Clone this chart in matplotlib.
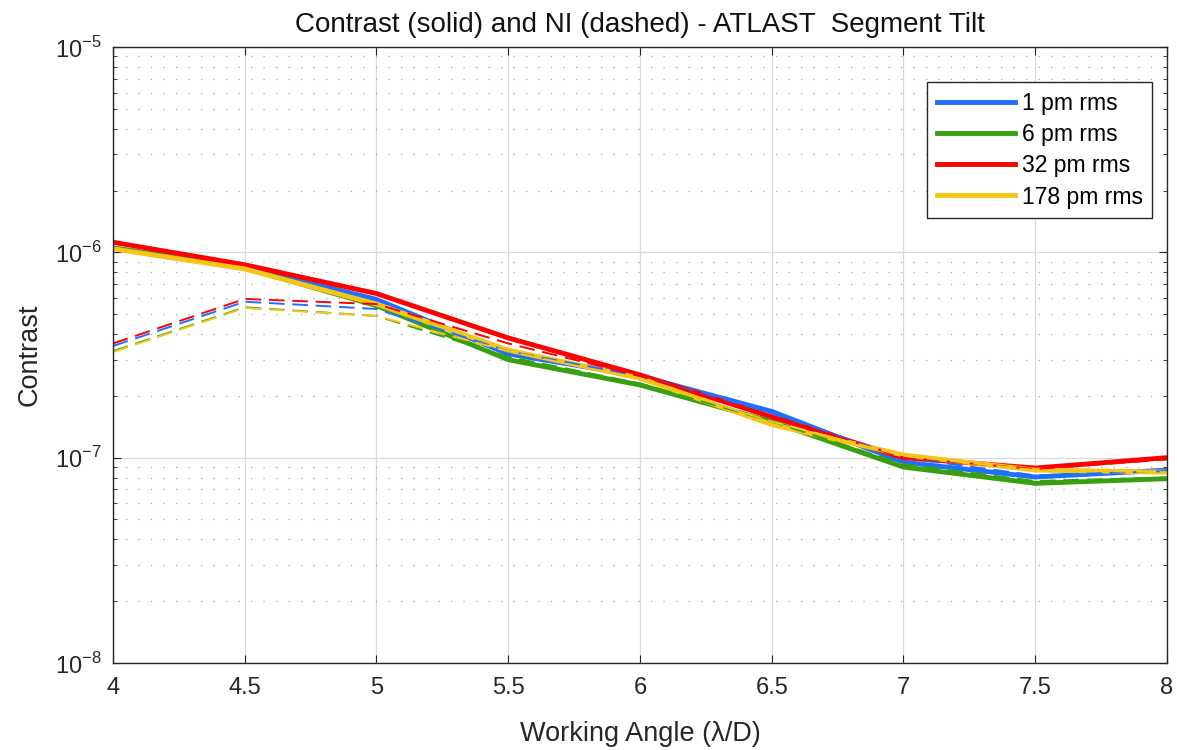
import numpy as np
import matplotlib
matplotlib.use("Agg")
import matplotlib.pyplot as plt
from matplotlib.ticker import LogLocator, NullFormatter, MultipleLocator

plt.rcParams['font.family'] = ['Liberation Sans', 'DejaVu Sans']
plt.rcParams['mathtext.fontset'] = 'custom'
plt.rcParams['mathtext.rm'] = 'Liberation Sans'

# working angle samples (lambda/D)
angle = [4.0, 4.5, 5.0, 5.5, 6.0, 6.5, 7.0, 7.5, 8.0]

labels = ["1 pm rms", "6 pm rms", "32 pm rms", "178 pm rms"]
colors = ["#1f6fff", "#38a00f", "#ff0000", "#f5c518"]

# contrast curves (solid)
contrast_1 = [1.05e-6, 8.5e-7, 5.9e-7, 3.2e-7, 2.5e-7, 1.68e-7, 9.5e-8, 8.05e-8, 8.7e-8]
contrast_6 = [1.05e-6, 8.4e-7, 5.5e-7, 3.0e-7, 2.26e-7, 1.5e-7, 9.0e-8, 7.5e-8, 7.9e-8]
contrast_32 = [1.12e-6, 8.7e-7, 6.3e-7, 3.83e-7, 2.53e-7, 1.58e-7, 1.0e-7, 8.9e-8, 1.0e-7]
contrast_178 = [1.04e-6, 8.3e-7, 5.6e-7, 3.34e-7, 2.44e-7, 1.45e-7, 1.03e-7, 8.7e-8, 8.5e-8]

# normalized intensity curves (dashed)
ni_1 = [3.5e-7, 5.75e-7, 5.3e-7, 3.3e-7, 2.5e-7, 1.65e-7, 1.0e-7, 8.2e-8, 8.6e-8]
ni_6 = [3.3e-7, 5.4e-7, 4.9e-7, 3.1e-7, 2.3e-7, 1.5e-7, 9.3e-8, 7.7e-8, 8.0e-8]
ni_32 = [3.6e-7, 5.93e-7, 5.6e-7, 3.6e-7, 2.5e-7, 1.6e-7, 1.0e-7, 8.8e-8, 9.8e-8]
ni_178 = [3.27e-7, 5.36e-7, 4.9e-7, 3.3e-7, 2.4e-7, 1.5e-7, 1.02e-7, 8.7e-8, 8.5e-8]

contrast = [contrast_1, contrast_6, contrast_32, contrast_178]
ni = [ni_1, ni_6, ni_32, ni_178]

fig = plt.figure(figsize=(11.77, 7.5), dpi=100)
ax = fig.add_axes([0.096, 0.116, 0.8955, 0.8213])

for c, lab, col in zip(contrast, labels, colors):
    ax.plot(angle, c, color=col, lw=3.5, label=lab)
for n, col in zip(ni, colors):
    ax.plot(angle, n, color=col, lw=1.4, ls=(0, (8, 4)))

ax.set_yscale('log')
ax.set_xlim(4, 8)
ax.set_ylim(1e-8, 1e-5)
ax.xaxis.set_major_locator(MultipleLocator(0.5))
ax.xaxis.set_major_formatter(plt.FuncFormatter(lambda v, p: f"{v:g}"))
ax.yaxis.set_major_locator(LogLocator(base=10))
ax.yaxis.set_major_formatter(plt.FuncFormatter(lambda v, p: r"$10^{%d}$" % round(np.log10(v))))
ax.yaxis.set_minor_locator(LogLocator(base=10, subs=np.arange(2, 10)))
ax.yaxis.set_minor_formatter(NullFormatter())

ax.grid(True, which='major', color='#dadada', lw=0.9)
ax.grid(True, which='minor', axis='y', color='#a8a8a8', lw=0.9, ls=(0, (1, 9)))
ax.set_axisbelow(True)

ax.tick_params(which='both', direction='in', top=True, right=True, labelsize=17,
               colors='#262626')
ax.tick_params(which='major', length=6)
ax.tick_params(which='minor', length=3)
ax.tick_params(axis='x', pad=10)
ax.tick_params(axis='y', pad=8)
for s in ax.spines.values():
    s.set_color('#262626')
    s.set_linewidth(1.0)

ax.set_title("Contrast (solid) and NI (dashed) - ATLAST  Segment Tilt", fontsize=20,
             color='#111111', pad=11)
ax.set_xlabel("Working Angle (λ/D)", fontsize=19.5, color='#262626', labelpad=16)
ax.set_ylabel("Contrast", fontsize=19.5, color='#262626', labelpad=9)

leg = ax.legend(loc='upper right', bbox_to_anchor=(0.986, 0.943), fontsize=16.5,
                handlelength=3.4, handletextpad=0.3, labelspacing=0.36,
                borderpad=0.42, borderaxespad=0, fancybox=False, framealpha=1)
leg.get_frame().set_edgecolor('#262626')
leg.get_frame().set_linewidth(1.0)

fig.savefig("out.png", dpi=100)
